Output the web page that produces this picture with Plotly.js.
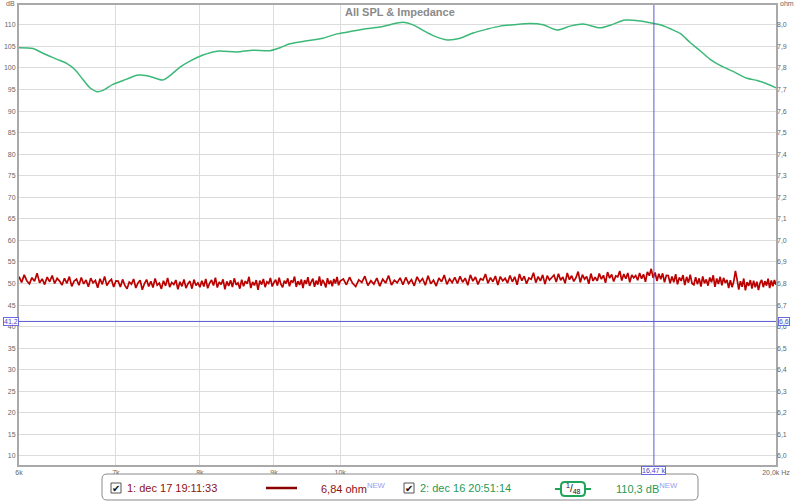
<!DOCTYPE html>
<html>
<head>
<meta charset="utf-8">
<script src="https://cdn.plot.ly/plotly-3.0.1.min.js"></script>
<style>html,body{margin:0;padding:0;background:#fff;}#chart{width:800px;height:502px;}</style>
</head>
<body>
<div id="chart"></div>
<script>
// ---------- data ----------
const chartTitle = "All SPL & Impedance";
const xTickVals = [6000, 7000, 8000, 9000, 10000, 20000];
const xTickText = ["6k", "7k", "8k", "9k", "10k", "20,0k Hz"];

// Trace 2: SPL (dB), green
const splFreq = [6000,6135,6233,6374,6476,6559,6642,6716,6792,6857,6967,7124,7238,7354,7472,7544,7628,7751,7875,8040,8220,8486,8705,8944,9087,9233,9486,9731,9950,10110,10370,10655,10947,11052,11230,11410,11593,11854,12102,12354,12632,12896,13166,13526,13809,14120,14415,14716,15120,15362,15733,16113,16470,16713,16900,17171,17446,17726,18010,18299,18682,19102,19409,19688,20000];
const splDb = [104.7,104.5,103.4,102.0,101.0,99.6,97.3,95.4,94.5,94.8,96.2,97.4,98.3,98.2,97.5,97.2,98.2,100.2,101.6,103.0,103.9,103.7,104.1,104.0,104.7,105.6,106.3,106.9,107.9,108.3,109.0,109.5,110.4,110.6,110.0,108.7,107.5,106.5,106.9,108.1,109.0,109.7,110.0,110.3,110.0,108.8,109.7,110.2,109.3,109.9,111.1,110.9,110.3,109.8,109.1,108.0,105.9,104.0,102.0,100.6,99.2,97.6,97.1,96.4,95.4];

// Trace 1: impedance (ohm), red
const impFreq = [
6000,6025,6050,6075,6100,6125,6150,6175,6200,6225,6250,6275,6300,6325,6350,6375,6400,
6425,6450,6475,6500,6525,6550,6575,6600,6625,6650,6675,6700,6725,6750,6775,6800,6825,6850,6875,6900,6925,6950,6975,7000,
7025,7050,7075,7100,7125,7150,7175,7200,7225,7250,7275,7300,7325,7350,7375,7400,7425,7450,7475,7500,
7525,7550,7575,7600,7625,7650,7675,7700,7725,7750,7775,7800,7825,7850,7875,7900,7925,7950,7975,8000,
8025,8050,8075,8100,8125,8150,8175,8200,8225,8250,8275,8300,8325,8350,8375,8400,8425,8450,8475,8500,
8525,8550,8575,8600,8625,8650,8675,8700,8725,8750,8775,8800,8825,8850,8875,8900,8925,8950,8975,9000,
9025,9050,9075,9100,9125,9150,9175,9200,9225,9250,9275,9300,9325,9350,9375,9400,9425,9450,9475,9500,
9525,9550,9575,9600,9625,9650,9675,9700,9725,9750,9775,9800,9825,9850,9875,9900,9925,9950,9975,10000,
10050,10100,10150,10200,10250,10300,10350,10400,10450,10500,10550,10600,10650,10700,10750,10800,10850,10900,10950,11000,
11050,11100,11150,11200,11250,11300,11350,11400,11450,11500,11550,11600,11650,11700,11750,11800,11850,11900,11950,12000,
12050,12100,12150,12200,12250,12300,12350,12400,12450,12500,12550,12600,12650,12700,12750,12800,12850,12900,12950,13000,
13050,13100,13150,13200,13250,13300,13350,13400,13450,13500,13550,13600,13650,13700,13750,13800,13850,13900,13950,14000,
14050,14100,14150,14200,14250,14300,14350,14400,14450,14500,14550,14600,14650,14700,14750,14800,14850,14900,14950,15000,
15050,15100,15150,15200,15250,15300,15350,15400,15450,15500,15550,15600,15650,15700,15750,15800,15850,15900,15950,16000,
16050,16100,16150,16200,16250,16300,16350,16400,16450,16500,16550,16600,16650,16700,16750,16800,
16850,16900,16950,17000,17050,17100,17150,17200,17250,17300,17350,17400,17450,17500,
17550,17600,17650,17700,17750,17800,17850,17900,17950,18000,18050,18100,18150,18200,18250,18300,18350,18400,18450,18500,
18550,18600,18650,18700,18750,18800,18850,18900,18950,19000,19050,19100,19150,19200,19250,19300,19350,19400,19450,19500,
19550,19600,19650,19700,19750,19800,19850,19900,19950,20000];
const impOhm = [
6.832,6.805,6.840,6.813,6.798,6.827,6.810,6.848,6.803,6.821,6.795,6.830,6.808,6.837,6.800,6.824,6.811,
6.793,6.824,6.801,6.832,6.787,6.811,6.820,6.792,6.828,6.798,6.816,6.785,6.825,6.803,6.814,6.780,6.822,6.796,6.833,6.790,6.809,6.819,6.784,6.812,
6.811,6.784,6.819,6.791,6.776,6.807,6.797,6.821,6.779,6.803,6.815,6.771,6.800,6.818,6.786,6.810,6.781,6.823,6.792,6.802,
6.775,6.813,6.789,6.826,6.783,6.805,6.795,6.816,6.773,6.808,6.787,6.819,6.779,6.799,6.811,6.776,6.818,6.791,6.803,6.783,
6.813,6.786,6.821,6.778,6.802,6.816,6.791,6.827,6.781,6.807,6.795,6.819,6.773,6.810,6.789,6.815,6.784,6.824,6.794,6.803,
6.776,6.818,6.787,6.811,6.799,6.831,6.779,6.807,6.791,6.816,6.771,6.813,6.795,6.821,6.783,6.808,6.800,6.826,6.786,6.805,
6.817,6.790,6.827,6.797,6.782,6.813,6.800,6.824,6.787,6.814,6.805,6.832,6.784,6.811,6.793,6.819,6.779,6.816,6.798,6.829,
6.789,6.808,6.822,6.785,6.813,6.795,6.833,6.790,6.817,6.803,6.782,6.825,6.797,6.814,6.787,6.821,6.800,6.830,6.792,6.811,
6.821,6.794,6.829,6.801,6.786,6.817,6.805,6.834,6.791,6.813,6.797,6.825,6.788,6.820,6.802,6.837,6.793,6.815,6.804,6.826,
6.794,6.828,6.800,6.818,6.789,6.831,6.807,6.823,6.792,6.836,6.799,6.816,6.788,6.826,6.808,6.839,6.796,6.821,6.804,6.829,
6.800,6.833,6.806,6.825,6.792,6.840,6.811,6.830,6.796,6.822,6.816,6.844,6.801,6.827,6.808,6.835,6.793,6.832,6.812,6.824,
6.802,6.837,6.808,6.831,6.794,6.844,6.813,6.834,6.799,6.826,6.820,6.850,6.804,6.832,6.812,6.840,6.797,6.836,6.816,6.828,
6.839,6.807,6.845,6.815,6.830,6.801,6.849,6.818,6.836,6.810,6.827,6.855,6.805,6.841,6.820,6.833,6.799,6.846,6.812,6.829,
6.812,6.846,6.820,6.838,6.803,6.853,6.825,6.842,6.809,6.835,6.831,6.858,6.814,6.844,6.822,6.849,6.806,6.840,6.826,6.837,
6.815,6.849,6.822,6.843,6.808,6.854,6.836,6.868,6.826,6.851,6.812,6.845,6.820,6.847,6.806,6.838,
6.837,6.801,6.832,6.806,6.843,6.796,6.828,6.812,6.839,6.793,6.831,6.804,6.841,6.800,
6.794,6.829,6.797,6.824,6.786,6.833,6.801,6.819,6.790,6.828,6.806,6.838,6.784,6.823,6.798,6.831,6.792,6.826,6.803,6.817,
6.779,6.815,6.783,6.809,6.858,6.818,6.772,6.811,6.785,6.823,6.768,6.806,6.789,6.816,6.776,6.813,6.782,6.808,6.770,6.803,
6.817,6.783,6.811,6.790,6.822,6.779,6.814,6.787,6.816,6.794];

// Cursor readout
const cursorFreq = 16470;
const cursorDb = 41.2;
const cursorFreqLabel = "16,47 k";
const cursorDbLabel = "41,2";
const cursorOhmLabel = "6,6";
const legend1Name = "1: dec 17 19:11:33";
const legend1Value = "6,84 ohm";
const legend2Name = "2: dec 16 20:51:14";
const legend2Value = "110,3 dB";
const smoothingLabel = "<sup>1</sup>/<sub>48</sub>";

// ---------- layout helpers ----------
const W = 800, H = 502;
const mL = 19, mR = 24, mT = 5, mB = 37;
const pw = W - mL - mR, ph = H - mT - mB;
const PX = x => (x - mL) / pw;
const PY = y => (H - mB - y) / ph;

const dbRange = [7.9, 114.6];
const ohmRange = dbRange.map(v => 6 + (v - 10) / 50);

const green = "#3cb878";
const red = "#bb0000";
const darkRed = "#8b1111";
const greenText = "#1f9a57";
const blue = "#5a5ad6";
const font = "Liberation Sans, Arial, sans-serif";

function roundRect(x0, y0, x1, y1, r) {
  const X0 = PX(x0), X1 = PX(x1), Yt = PY(y0), Yb = PY(y1);
  const rx = r / pw, ry = r / ph;
  return `M${X0+rx},${Yt} L${X1-rx},${Yt} Q${X1},${Yt} ${X1},${Yt-ry} L${X1},${Yb+ry} Q${X1},${Yb} ${X1-rx},${Yb} L${X0+rx},${Yb} Q${X0},${Yb} ${X0},${Yb+ry} L${X0},${Yt-ry} Q${X0},${Yt} ${X0+rx},${Yt} Z`;
}
function pRect(x0, y0, x1, y1, lineColor, lw, fill) {
  return {type: "rect", xref: "paper", yref: "paper", x0: PX(x0), x1: PX(x1), y0: PY(y1), y1: PY(y0),
    line: {color: lineColor, width: lw}, fillcolor: fill || "rgba(0,0,0,0)", layer: "above"};
}
function pLine(x0, y0, x1, y1, color, lw) {
  return {type: "line", xref: "paper", yref: "paper", x0: PX(x0), x1: PX(x1), y0: PY(y0), y1: PY(y1),
    line: {color: color, width: lw}, layer: "above"};
}
function pText(x, y, text, size, color, xanchor, extra) {
  return Object.assign({xref: "paper", yref: "paper", x: PX(x), y: PY(y), text: text, showarrow: false,
    xanchor: xanchor || "left", yanchor: "middle", font: {family: font, size: size, color: color}}, extra || {});
}
const NEW = "<sup><span style='color:#9a9af0'>NEW</span></sup>";

// ---------- traces ----------
const traces = [
  {x: impFreq, y: impOhm, yaxis: "y2", type: "scatter", mode: "lines",
   line: {color: red, width: 1.7, simplify: false}, hoverinfo: "skip"},
  {x: splFreq, y: splDb, yaxis: "y", type: "scatter", mode: "lines",
   line: {color: green, width: 1.5, shape: "spline", smoothing: 0.8}, hoverinfo: "skip"}
];

const axisFont = {family: font, size: 7, color: "#666"};

const layout = {
  width: W, height: H,
  margin: {l: mL, r: mR, t: mT, b: mB, pad: 0},
  paper_bgcolor: "#fff", plot_bgcolor: "#fff",
  separators: ",.",
  showlegend: false,
  xaxis: {type: "log", range: [Math.log10(6000), Math.log10(20000)],
    tickvals: xTickVals, ticktext: xTickText, tickfont: axisFont, ticks: "",
    showgrid: true, gridcolor: "#dcdcdc", gridwidth: 1,
    showline: true, linecolor: "#a9a9a9", linewidth: 2, mirror: true, zeroline: false, fixedrange: true},
  yaxis: {range: dbRange, tick0: 10, dtick: 5, tickfont: axisFont, ticks: "",
    showgrid: true, gridcolor: "#dcdcdc", gridwidth: 1,
    showline: true, linecolor: "#a9a9a9", linewidth: 2, mirror: true, zeroline: false, fixedrange: true},
  yaxis2: {range: ohmRange, overlaying: "y", side: "right", tick0: 6, dtick: 0.1, tickformat: ".1f",
    tickfont: axisFont, ticks: "", showgrid: false, zeroline: false, showline: false, fixedrange: true},
  shapes: [
    {type: "line", xref: "x", yref: "paper", x0: cursorFreq, x1: cursorFreq, y0: 0, y1: 1, line: {color: blue, width: 1}, layer: "above"},
    {type: "line", xref: "paper", yref: "y", x0: 0, x1: 1, y0: cursorDb, y1: cursorDb, line: {color: blue, width: 1}, layer: "above"},
    {type: "path", xref: "paper", yref: "paper", path: roundRect(102, 474, 698, 500, 5),
     line: {color: "#8a8a8a", width: 1}, fillcolor: "#fff", layer: "above"},
    pRect(111, 483, 121, 493, "#555", 1, "#fff"),
    pLine(266, 488, 297, 488, "#8b0000", 2.5),
    pRect(404, 483, 414, 493, "#555", 1, "#fff"),
    pLine(555, 489, 591, 489, "#1fa55a", 2),
    {type: "path", xref: "paper", yref: "paper", path: roundRect(561, 482, 585, 496, 4),
     line: {color: "#1fa55a", width: 2}, fillcolor: "#fff", layer: "above"}
  ],
  annotations: [
    pText(400, 12, "<b>" + chartTitle + "</b>", 11, "#8a8a8a", "center"),
    pText(10, 3, "dB", 7, "#666", "center"),
    pText(787, 3, "ohm", 7, "#666", "center"),
    {xref: "paper", yref: "y", x: 0, y: cursorDb, xanchor: "right", yanchor: "middle", text: cursorDbLabel,
     showarrow: false, font: {family: font, size: 7, color: "#4646c8"}, bordercolor: "#6a6ae0", borderwidth: 1, borderpad: 0, bgcolor: "#fff"},
    {xref: "paper", yref: "y", x: 1, y: cursorDb, xanchor: "left", yanchor: "middle", xshift: 2, text: cursorOhmLabel,
     showarrow: false, font: {family: font, size: 7, color: "#4646c8"}, bordercolor: "#6a6ae0", borderwidth: 1, borderpad: 0, bgcolor: "#fff"},
    {xref: "x", yref: "paper", x: Math.log10(cursorFreq), y: 0, xanchor: "center", yanchor: "top", yshift: -1, text: cursorFreqLabel,
     showarrow: false, font: {family: font, size: 7, color: "#4646c8"}, bordercolor: "#6a6ae0", borderwidth: 1, borderpad: 0, bgcolor: "#fff"},
    pText(116, 488, "✔", 10, "#111", "center"),
    pText(125, 488, legend1Name, 11, darkRed, "left"),
    pText(319, 488, legend1Value + NEW, 11, darkRed, "left"),
    pText(409, 488, "✔", 10, "#111", "center"),
    pText(418, 488, legend2Name, 11, greenText, "left"),
    pText(573, 489, smoothingLabel, 10, "#111", "center"),
    pText(614, 488, legend2Value + NEW, 11, greenText, "left")
  ]
};

Plotly.newPlot("chart", traces, layout, {staticPlot: true, displayModeBar: false});
</script>
</body>
</html>
